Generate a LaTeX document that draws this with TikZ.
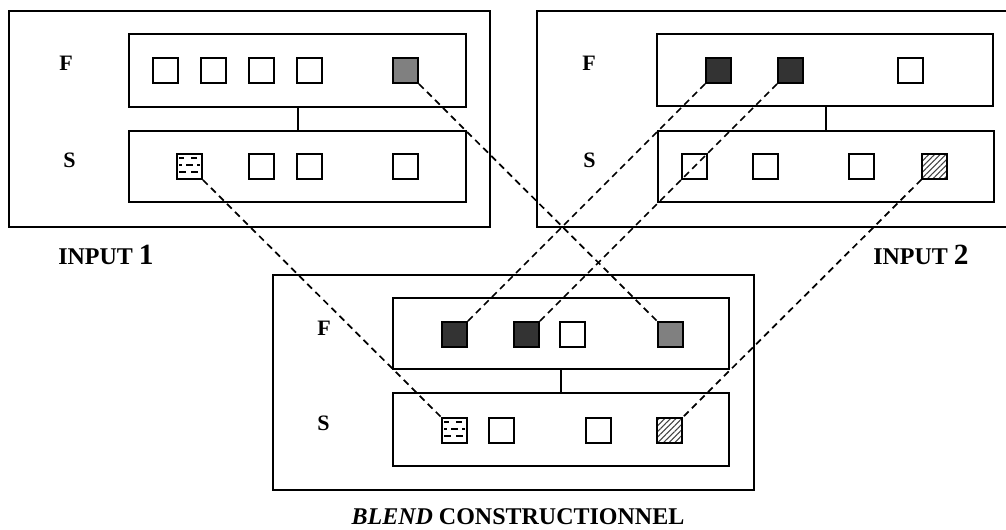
\documentclass[tikz,border=0pt]{standalone}
\usepackage{fontspec}
\setmainfont{Liberation Serif}
\usetikzlibrary{patterns.meta}
\definecolor{darkfill}{HTML}{333333}
\definecolor{midfill}{HTML}{808080}
\tikzset{
  frame/.style={draw, line width=1.8pt, inner sep=0pt},
  sq/.style={draw, line width=1.4pt, minimum size=18.75pt, inner sep=0pt, fill=white},
  darksq/.style={sq, fill=darkfill},
  graysq/.style={sq, fill=midfill},
  hatchsq/.style={sq, pattern={Lines[angle=45,distance=3pt,line width=0.8pt]}, pattern color=black!75},
  link/.style={line width=1.3pt, dash pattern=on 5pt off 3.5pt},
  lbl/.style={inner sep=0pt, anchor=base west, font=\bfseries\fontsize{16.5}{18}\selectfont},
  captext/.style={inner sep=0pt, font=\bfseries\fontsize{18}{20}\selectfont},
  dashmark/.style={line width=1.3pt}
}
\newcommand{\dashfill}[1]{%
  \draw[dashmark] ([shift={(3,5)}]#1.north west) -- ([shift={(8,5)}]#1.north west)
                  ([shift={(15,5)}]#1.north west) -- ([shift={(21,5)}]#1.north west)
                  ([shift={(3,12)}]#1.north west) -- ([shift={(6,12)}]#1.north west)
                  ([shift={(10,12)}]#1.north west) -- ([shift={(17,12)}]#1.north west)
                  ([shift={(21,12)}]#1.north west) -- ([shift={(24,12)}]#1.north west)
                  ([shift={(3,19)}]#1.north west) -- ([shift={(10,19)}]#1.north west)
                  ([shift={(15,19)}]#1.north west) -- ([shift={(22,19)}]#1.north west);}
\begin{document}
\begin{tikzpicture}[x=0.75pt, y=-0.75pt]
\useasboundingbox (0,0) rectangle (1006,529);
\clip (0,0) rectangle (1006,529);

% ---------- INPUT 1 ----------
\node[frame, minimum width=360.75pt, minimum height=162pt] (in1) at (249.5,119) {};
\node[frame, minimum width=252.75pt, minimum height=54.75pt] (f1) at (297.5,70.5) {};
\node[frame, minimum width=252.75pt, minimum height=53.25pt] (s1) at (297.5,166.5) {};
\draw[line width=1.5pt] (f1.south) -- (s1.north);
\node[lbl] (f1l) at (59,70) {F};
\node[lbl] (s1l) at (63,167) {S};
\node[sq] (a1) at (165.5,70.5) {};
\node[sq] (a2) at (213.5,70.5) {};
\node[sq] (a3) at (261.5,70.5) {};
\node[sq] (a4) at (309.5,70.5) {};
\node[graysq] (a5) at (405.5,70.5) {};
\node[sq] (b1) at (189.5,166.5) {};
\dashfill{b1}
\node[sq] (b2) at (261.5,166.5) {};
\node[sq] (b3) at (309.5,166.5) {};
\node[sq] (b4) at (405.5,166.5) {};
\node[captext, anchor=base west] (in1l) at (58,264) {INPUT {\fontsize{22}{24}\selectfont 1}};

% ---------- INPUT 2 ----------
\node[frame, minimum width=355.5pt, minimum height=162pt] (in2) at (774,119) {};
\node[frame, minimum width=252pt, minimum height=54pt] (f2) at (825,70) {};
\node[frame, minimum width=252pt, minimum height=53.25pt] (s2) at (826,166.5) {};
\draw[line width=1.5pt] (s2.north) -- (s2.north |- f2.south);
\node[lbl] (f2l) at (582,70) {F};
\node[lbl] (s2l) at (583,167) {S};
\node[darksq] (c1) at (718.5,70.5) {};
\node[darksq] (c2) at (790.5,70.5) {};
\node[sq] (c3) at (910.5,70.5) {};
\node[sq, fill=none] (d1) at (694.5,166.5) {};
\node[sq] (d2) at (765.5,166.5) {};
\node[sq] (d3) at (861.5,166.5) {};
\node[hatchsq] (d4) at (934.5,166.5) {};
\node[captext, anchor=base west] (in2l) at (873,264) {INPUT {\fontsize{22}{24}\selectfont 2}};

% ---------- BLEND ----------
\node[frame, minimum width=360.75pt, minimum height=161.25pt] (bl) at (513.5,382.5) {};
\node[frame, minimum width=252pt, minimum height=53.25pt] (f3) at (561,333.5) {};
\node[frame, minimum width=252pt, minimum height=54.75pt] (s3) at (561,429.5) {};
\draw[line width=1.5pt] (f3.south) -- (s3.north);
\node[lbl] (f3l) at (317,335) {F};
\node[lbl] (s3l) at (317,430) {S};
\node[darksq] (e1) at (454.5,334.5) {};
\node[darksq] (e2) at (526.5,334.5) {};
\node[sq] (e3) at (572.5,334.5) {};
\node[graysq] (e4) at (670.5,334.5) {};
\node[sq] (g1) at (454.5,430.5) {};
\dashfill{g1}
\node[sq] (g2) at (501.5,430.5) {};
\node[sq] (g3) at (598.5,430.5) {};
\node[hatchsq] (g4) at (669.5,430.5) {};
\node[captext, anchor=base] (bll) at (518,524) {\textit{BLEND} CONSTRUCTIONNEL};

% ---------- dashed mappings ----------
\draw[link] (a5.south east) -- (e4.north west);
\draw[link] (b1.south east) -- (g1.north west);
\draw[link] (c1.south west) -- (e1.north east);
\draw[link] (c2.south west) -- (e2.north east);
\draw[link] (d4.south west) -- (g4.north east);
\end{tikzpicture}
\end{document}
